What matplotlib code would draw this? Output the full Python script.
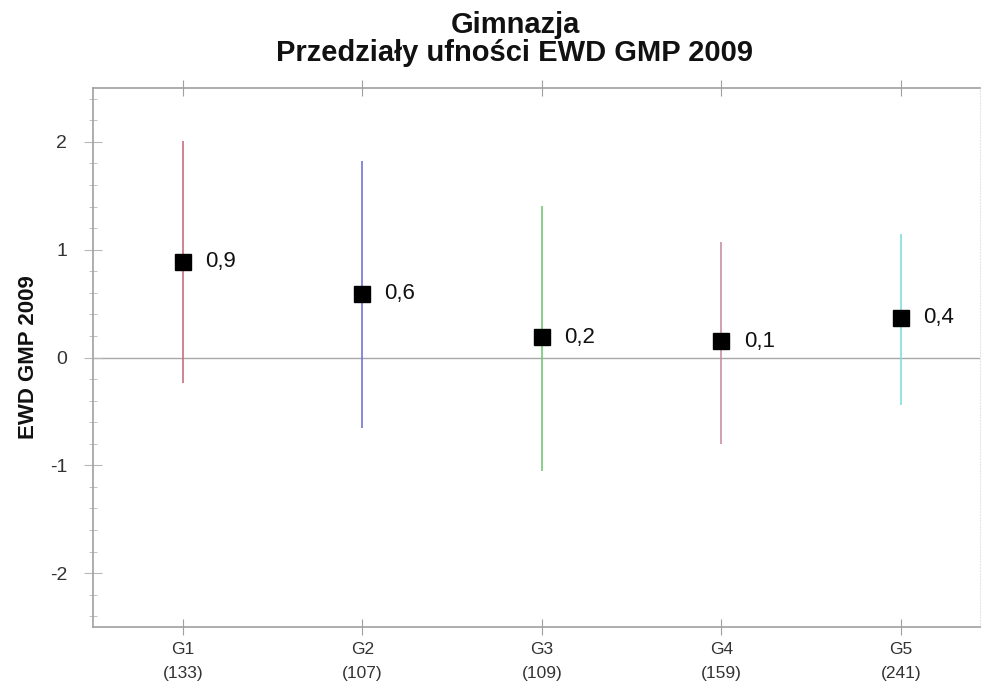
import matplotlib
matplotlib.use("Agg")
import matplotlib.pyplot as plt
from matplotlib.ticker import FuncFormatter
import numpy as np

plt.rcParams['font.family'] = ['Liberation Sans', 'DejaVu Sans']

# data
groups = ["G1", "G2", "G3", "G4", "G5"]
counts = [133, 107, 109, 159, 241]
ewd = [0.89, 0.59, 0.19, 0.15, 0.37]
ci_low = [-0.24, -0.65, -1.05, -0.80, -0.44]
ci_high = [2.01, 1.82, 1.41, 1.07, 1.15]
labels = ["0,9", "0,6", "0,2", "0,1", "0,4"]
line_colors = ["#c8707e", "#7474d8", "#74c874", "#c890a0", "#80dede"]

W, H = 982, 688
fig = plt.figure(figsize=(W / 100, H / 100), dpi=100)
# axes box in pixels: left 93, right 980, top 88, bottom 627
ax = fig.add_axes([93 / W, 1 - 627 / H, (980 - 93) / W, (627 - 88) / H])

x = np.arange(1, len(groups) + 1)

ax.axhline(0, color="#a8a8a8", lw=1.0, zorder=1)
for xi, lo, hi, c in zip(x, ci_low, ci_high, line_colors):
    ax.vlines(xi, lo, hi, color=c, lw=1.2, zorder=2)
ax.plot(x, ewd, ls="none", marker="s", ms=11.5, color="black", zorder=3)
for xi, v, lab in zip(x, ewd, labels):
    ax.annotate(lab, (xi, v), xytext=(16, 0), textcoords="offset points",
                va="center", ha="left", fontsize=16, color="#111111")

ax.set_xlim(0.5, 5.44)
ax.set_ylim(-2.5, 2.5)
ax.set_yticks([-2, -1, 0, 1, 2])
ax.set_yticks(np.arange(-2.4, 2.41, 0.2), minor=True)
ax.yaxis.set_major_formatter(FuncFormatter(lambda v, p: f"{v:.0f}".replace("\u2212", "-")))
ax.set_xticks(x)
ax.set_xticklabels([f"{g}\n({n})" for g, n in zip(groups, counts)],
                   fontsize=12.5, color="#333333", linespacing=1.75,
                   family=['Liberation Sans Narrow', 'Liberation Sans', 'DejaVu Sans'])

for s in ["left", "bottom", "top"]:
    ax.spines[s].set_color("#a0a0a0")
    ax.spines[s].set_linewidth(1.2)
ax.spines["right"].set_color("#e6e6e6")
ax.spines["right"].set_linestyle(":")

ax.tick_params(axis="y", which="major", direction="inout", length=13,
               color="#b8b8b8", labelsize=14, labelcolor="#333333", pad=12)
ax.tick_params(axis="y", which="minor", direction="inout", length=6,
               color="#b8b8b8")
ax.tick_params(axis="x", which="major", direction="inout", length=12,
               color="#a0a0a0", top=True, pad=5)

ax.set_ylabel("EWD GMP 2009", fontsize=16, fontweight="bold", labelpad=8,
              color="#111111")

fig.text(515 / W, 1 - 25 / H, "Gimnazja", ha="center", va="center",
         fontsize=21, fontweight="bold", color="#111111")
fig.text(515 / W, 1 - 53 / H, "Przedziały ufności EWD GMP 2009", ha="center",
         va="center", fontsize=21, fontweight="bold", color="#111111")

fig.savefig("out.png", dpi=100)
